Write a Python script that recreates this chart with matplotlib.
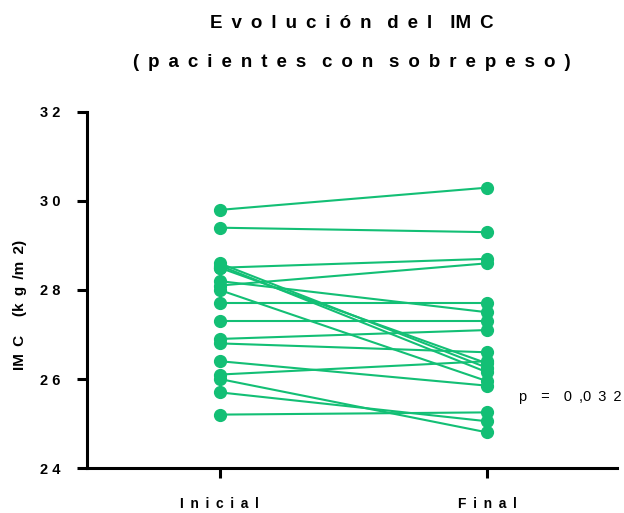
import matplotlib
matplotlib.use("Agg")
import matplotlib.pyplot as plt

plt.rcParams['font.family'] = ['Liberation Sans', 'DejaVu Sans']

# IMC per patient, before and after
groups = ["Inicial", "Final"]
inicial = [29.8, 29.4, 28.6, 28.55, 28.5, 28.5, 28.2, 28.1, 28.0,
           27.7, 27.3, 26.9, 26.8, 26.4, 26.1, 26.0, 25.7, 25.2]
final = [30.3, 29.3, 26.25, 26.15, 28.7, 26.35, 27.5, 28.6, 25.95,
         27.7, 27.3, 27.1, 26.6, 25.85, 26.4, 24.8, 25.05, 25.25]
yticks = [24, 26, 28, 30, 32]
p_value = "0,032"

green = "#13BF75"
LS = " \u2009"  # wide letter spacing


def spaced(s, gap=LS, word_gap="   "):
    return word_gap.join(gap.join(w) for w in s.split(" "))


fig = plt.figure(figsize=(6.24, 5.13), dpi=100)
ax = fig.add_axes([0.1394, 0.0877, 0.8494, 0.694])

for a, b in zip(inicial, final):
    ax.plot([0, 1], [a, b], color=green, lw=1.5, marker="o",
            markersize=8.5, solid_capstyle="round", zorder=3)

ax.set_xlim(-0.496, 1.485)
ax.set_ylim(24, 32)
ax.set_xticks([0, 1])
ax.set_xticklabels([spaced(g) for g in groups], fontweight="bold",
                   fontsize=10)
ax.set_yticks(yticks)
ax.set_yticklabels([" ".join(str(t)) for t in yticks],
                   fontweight="bold", fontsize=10.5)

for side in ["top", "right"]:
    ax.spines[side].set_visible(False)
for side in ["left", "bottom"]:
    ax.spines[side].set_linewidth(2.2)
ax.tick_params(axis="both", width=2.2, length=7, direction="out")
ax.tick_params(axis="x", pad=14)
ax.tick_params(axis="y", pad=12)

ax.set_ylabel(f"IM{LS}C{LS}{LS} (k{LS}g{LS}/m{LS}2)", fontweight="bold",
              fontsize=11)
ax.yaxis.set_label_coords(-0.113, 0.458)

cx = 0.1394 + 0.8494 / 2
fig.text(cx, 0.955, spaced("Evolución del") + f"{LS}{LS}IM{LS}C",
         ha="center", va="center", fontsize=13.5, fontweight="bold")
fig.text(cx, 0.878, spaced("(pacientes con sobrepeso)"),
         ha="center", va="center", fontsize=13.5, fontweight="bold")

p_label = "p" + LS * 2 + "=" + LS * 2 + LS.join(["0", ",0", "3", "2"])
ax.text(1.12, 25.6, p_label, ha="left", va="center", fontsize=10.5)

fig.savefig("out.png", dpi=100)
